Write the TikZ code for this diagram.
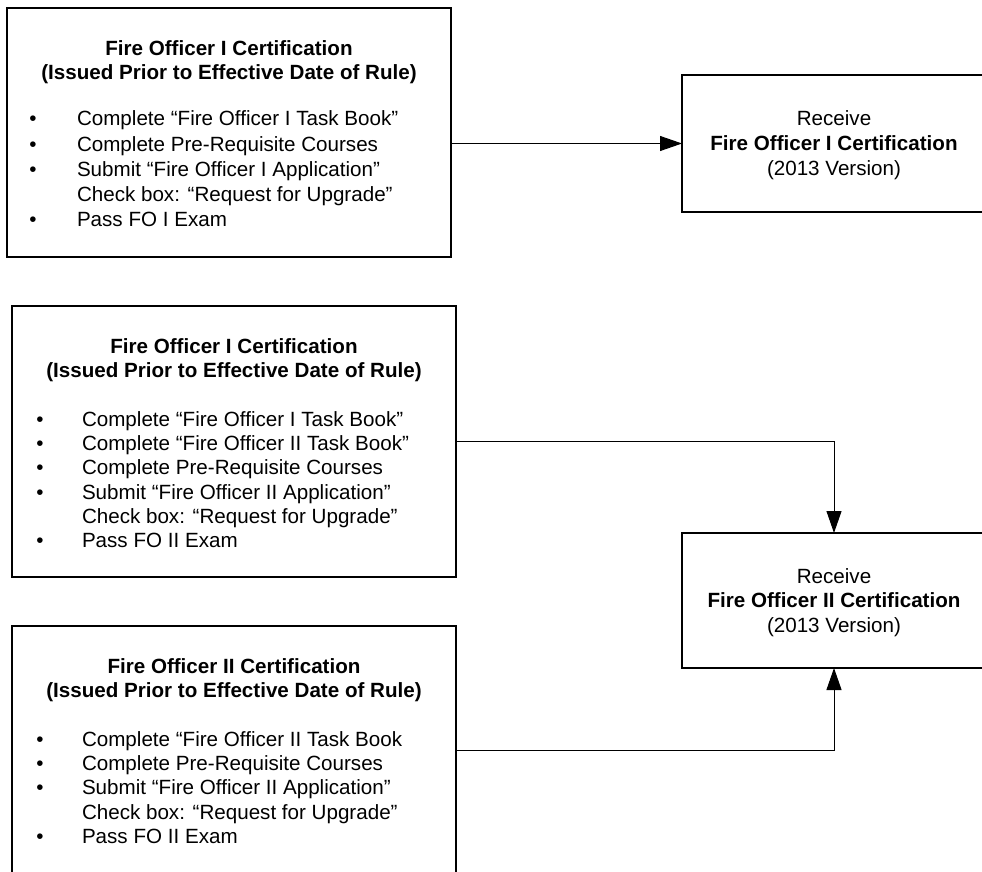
\documentclass[tikz,border=0pt]{standalone}
\usepackage{fontspec}
\setmainfont{Liberation Sans}
\usetikzlibrary{arrows.meta}
\tikzset{
  box/.style={draw=black, line width=1.1pt, rectangle, inner sep=0pt, outer sep=0pt, anchor=north west, fill=none},
  txt/.style={inner sep=0pt, outer sep=0pt, font=\fontsize{20.6}{24.5}\selectfont},
  ttl/.style={txt, font=\fontsize{20.6}{24.5}\selectfont\bfseries, anchor=base},
  item/.style={txt, anchor=base west},
  bul/.style={txt, anchor=base},
  rtxt/.style={txt, anchor=base},
  conn/.style={draw=black, line width=1pt},
  arr/.style={conn, -{Triangle[length=22pt, width=15pt]}}
}
\begin{document}
\begin{tikzpicture}[x=1pt, y=-1pt]
\useasboundingbox (0,0) rectangle (982,872);
\clip (0,0) rectangle (982,872);
\fill[white] (0,0) rectangle (982,872);

% boxes
\node[box, minimum width=444pt, minimum height=249pt] (boxA) at (7,8) {};
\node[box, minimum width=444pt, minimum height=271pt] (boxB) at (12,306) {};
\node[box, minimum width=444pt, minimum height=248pt] (boxC) at (12,626) {};
\node[box, minimum width=304pt, minimum height=137pt] (r1) at (682,75) {};
\node[box, minimum width=304pt, minimum height=135pt] (r2) at (682,533) {};

% box A text
\node[ttl] (at1) at (229,56) {Fire Officer I Certification};
\node[ttl] (at2) at (229,80) {(Issued Prior to Effective Date of Rule)};
\node[bul] (ab1) at (33,126) {•};
\node[item] (ai1) at (77,126) {Complete “Fire Officer I Task Book”};
\node[bul] (ab2) at (33,151) {•};
\node[item] (ai2) at (77,151) {Complete Pre-Requisite Courses};
\node[bul] (ab3) at (33,176) {•};
\node[item] (ai3) at (77,176) {Submit “Fire Officer I Application”};
\node[item] (ai4) at (77,201) {Check box: “Request for Upgrade”};
\node[bul] (ab5) at (33,226) {•};
\node[item] (ai5) at (77,226) {Pass FO I Exam};

% box B text
\node[ttl] (bt1) at (234,353) {Fire Officer I Certification};
\node[ttl] (bt2) at (234,377) {(Issued Prior to Effective Date of Rule)};
\node[bul] (bb1) at (40,426) {•};
\node[item] (bi1) at (82,426) {Complete “Fire Officer I Task Book”};
\node[bul] (bb2) at (40,450) {•};
\node[item] (bi2) at (82,450) {Complete “Fire Officer II Task Book”};
\node[bul] (bb3) at (40,474.5) {•};
\node[item] (bi3) at (82,474.5) {Complete Pre-Requisite Courses};
\node[bul] (bb4) at (40,499) {•};
\node[item] (bi4) at (82,499) {Submit “Fire Officer II Application”};
\node[item] (bi5) at (82,523) {Check box: “Request for Upgrade”};
\node[bul] (bb6) at (40,547) {•};
\node[item] (bi6) at (82,547) {Pass FO II Exam};

% box C text
\node[ttl] (ct1) at (234,673) {Fire Officer II Certification};
\node[ttl] (ct2) at (234,697) {(Issued Prior to Effective Date of Rule)};
\node[bul] (cb1) at (40,746) {•};
\node[item] (ci1) at (82,746) {Complete “Fire Officer II Task Book};
\node[bul] (cb2) at (40,770) {•};
\node[item] (ci2) at (82,770) {Complete Pre-Requisite Courses};
\node[bul] (cb3) at (40,794.5) {•};
\node[item] (ci3) at (82,794.5) {Submit “Fire Officer II Application”};
\node[item] (ci4) at (82,819) {Check box: “Request for Upgrade”};
\node[bul] (cb5) at (40,843) {•};
\node[item] (ci5) at (82,843) {Pass FO II Exam};

% result boxes text
\node[rtxt] (r1a) at (834,126) {Receive};
\node[rtxt, font=\fontsize{20.6}{24.5}\selectfont\bfseries] (r1b) at (834,150.5) {Fire Officer I Certification};
\node[rtxt] (r1c) at (834,175) {(2013 Version)};
\node[rtxt] (r2a) at (834,583) {Receive};
\node[rtxt, font=\fontsize{20.6}{24.5}\selectfont\bfseries] (r2b) at (834,607.5) {Fire Officer II Certification};
\node[rtxt] (r2c) at (834,632) {(2013 Version)};

% connectors
\draw[arr] (boxA.east |- r1.west) -- (r1.west);
\draw[arr] (boxB.east) -| (r2.north);
\draw[arr] (boxC.east) -| (r2.south);
\end{tikzpicture}
\end{document}
